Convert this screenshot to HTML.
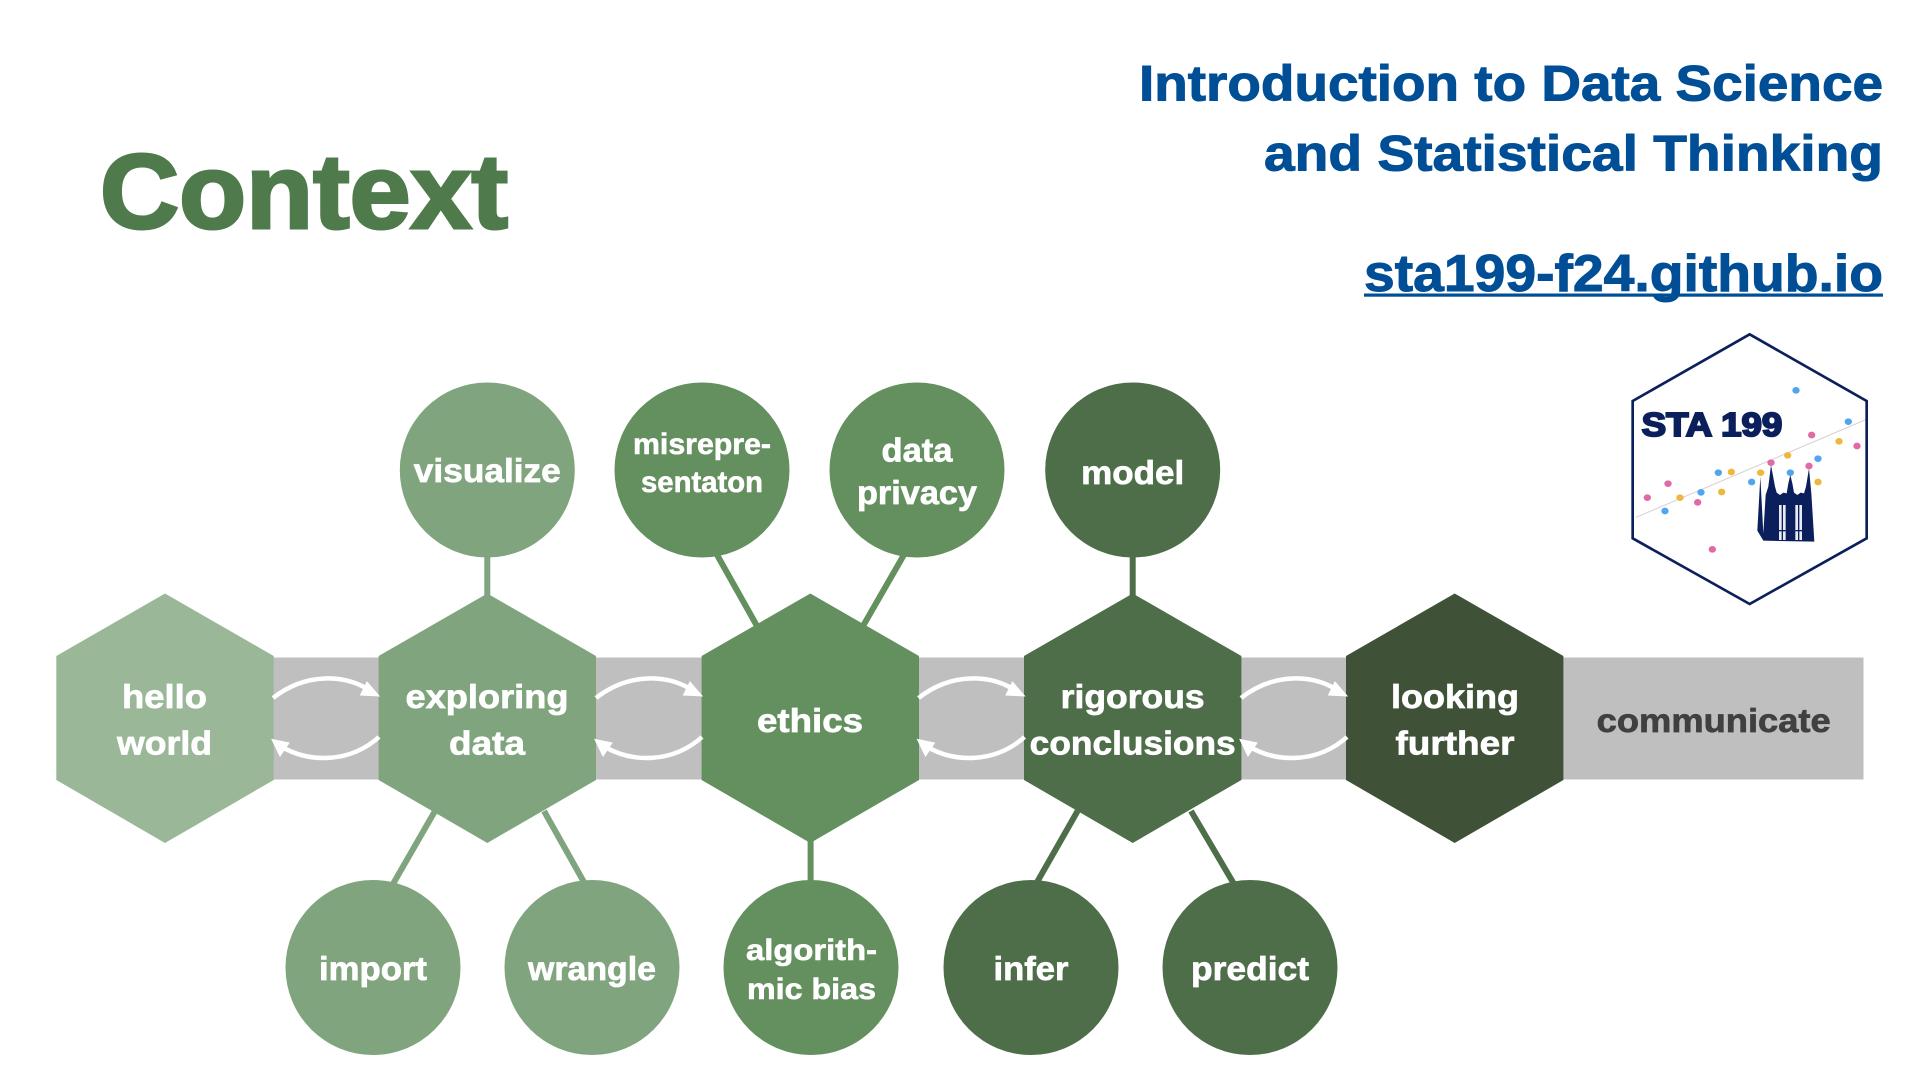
<!DOCTYPE html>
<html><head><meta charset="utf-8"><style>
html,body{margin:0;padding:0;background:#fff;width:1920px;height:1080px;overflow:hidden}
svg{display:block}
text{font-family:"Liberation Sans",sans-serif;font-weight:700}
.l{fill:#fff;stroke:#fff;stroke-width:.7px;text-anchor:middle;font-size:33px}
.s{fill:#fff;stroke:#fff;stroke-width:.6px;text-anchor:middle;font-size:30px}
.b{fill:#004f96;stroke:#004f96;stroke-width:1px;font-size:50px}
</style></head><body>
<svg width="1920" height="1080" viewBox="0 0 1920 1080" xmlns="http://www.w3.org/2000/svg">
<defs>
<g id="arr">
<path d="M273 698C305 673 345 673 372 692" fill="none" stroke="#fff" stroke-width="4.5"/>
<polygon points="379,696 367,682 360.5,695" fill="#fff" stroke="#fff" stroke-width="1"/>
<path d="M379 737C350 763 310 763 282 747" fill="none" stroke="#fff" stroke-width="4.5"/>
<polygon points="272,739.5 280,756 289,743" fill="#fff" stroke="#fff" stroke-width="1"/>
</g>
</defs>
<rect x="270" y="657.5" width="1593.5" height="122" fill="#bfbfbf"/>

<text x="100" y="228" font-size="106" fill="#4f7b4c" stroke="#4f7b4c" stroke-width="3" textLength="408" lengthAdjust="spacingAndGlyphs">Context</text>
<text class="b" x="1139" y="100.7" textLength="744" lengthAdjust="spacingAndGlyphs">Introduction to Data Science</text>
<text class="b" x="1264" y="170.7" textLength="619" lengthAdjust="spacingAndGlyphs">and Statistical Thinking</text>
<text class="b" x="1364" y="291" textLength="519" lengthAdjust="spacingAndGlyphs" style="font-size:52px">sta199-f24.github.io</text>
<rect x="1364" y="293.5" width="519" height="3.2" fill="#004f96"/>

<g stroke-width="6" fill="none">
<g stroke="#80a47d">
<line x1="487.3" y1="550" x2="487.3" y2="600"/>
<line x1="435" y1="811" x2="393" y2="884"/>
<line x1="544" y1="811" x2="585" y2="884"/>
</g>
<g stroke="#64905f">
<line x1="716" y1="553" x2="757" y2="626"/>
<line x1="905" y1="553" x2="863" y2="626"/>
<line x1="810.6" y1="835" x2="810.6" y2="885"/>
</g>
<g stroke="#4e6e4a">
<line x1="1132.7" y1="550" x2="1132.7" y2="600"/>
<line x1="1077.6" y1="811" x2="1036" y2="884"/>
<line x1="1191" y1="811" x2="1234" y2="884"/>
</g>
</g>

<polygon points="165,593.5 273.7,656 273.7,780 165,843 56.3,780 56.3,656" fill="#9ab898"/>
<polygon points="487.3,593.5 596,656 596,780 487.3,843 378.6,780 378.6,656" fill="#80a47d"/>
<polygon points="810.3,593.5 919,656 919,780 810.3,843 701.6,780 701.6,656" fill="#64905f"/>
<polygon points="1132.7,593.5 1241.4,656 1241.4,780 1132.7,843 1024,780 1024,656" fill="#4e6e4a"/>
<polygon points="1454.7,593.5 1563.4,656 1563.4,780 1454.7,843 1346,780 1346,656" fill="#3f5238"/>

<use href="#arr"/>
<use href="#arr" transform="translate(323,0)"/>
<use href="#arr" transform="translate(645.5,0)"/>
<use href="#arr" transform="translate(968,0)"/>

<circle cx="487.3" cy="470" r="87.5" fill="#80a47d"/>
<circle cx="702" cy="470" r="87.5" fill="#64905f"/>
<circle cx="917" cy="470" r="87.5" fill="#64905f"/>
<circle cx="1132.7" cy="470" r="87.5" fill="#4e6e4a"/>
<circle cx="373" cy="967.5" r="87.5" fill="#80a47d"/>
<circle cx="592" cy="967.5" r="87.5" fill="#80a47d"/>
<circle cx="811" cy="967.5" r="87.5" fill="#64905f"/>
<circle cx="1031" cy="967.5" r="87.5" fill="#4e6e4a"/>
<circle cx="1250" cy="967.5" r="87.5" fill="#4e6e4a"/>

<text class="l" x="164.5" y="708" textLength="85" lengthAdjust="spacingAndGlyphs">hello</text>
<text class="l" x="164.5" y="754.3" textLength="95" lengthAdjust="spacingAndGlyphs">world</text>
<text class="l" x="487" y="708" textLength="163" lengthAdjust="spacingAndGlyphs">exploring</text>
<text class="l" x="487" y="754.3" textLength="76" lengthAdjust="spacingAndGlyphs">data</text>
<text class="l" x="810" y="732" textLength="106" lengthAdjust="spacingAndGlyphs">ethics</text>
<text class="l" x="1132.7" y="708" textLength="144" lengthAdjust="spacingAndGlyphs">rigorous</text>
<text class="l" x="1132.7" y="754.3" textLength="206" lengthAdjust="spacingAndGlyphs">conclusions</text>
<text class="l" x="1455" y="708" textLength="128" lengthAdjust="spacingAndGlyphs">looking</text>
<text class="l" x="1455" y="754.3" textLength="119" lengthAdjust="spacingAndGlyphs">further</text>
<text class="l" x="1713.7" y="732" textLength="234" lengthAdjust="spacingAndGlyphs" style="fill:#404040;stroke:#404040">communicate</text>

<text class="l" x="487.3" y="482" textLength="147" lengthAdjust="spacingAndGlyphs">visualize</text>
<text class="s" x="702" y="454" textLength="138" lengthAdjust="spacingAndGlyphs">misrepre-</text>
<text class="s" x="702" y="492" textLength="122" lengthAdjust="spacingAndGlyphs">sentaton</text>
<text class="l" x="917" y="461.6" textLength="71" lengthAdjust="spacingAndGlyphs">data</text>
<text class="l" x="917" y="504" textLength="120" lengthAdjust="spacingAndGlyphs">privacy</text>
<text class="l" x="1132.7" y="484" textLength="103" lengthAdjust="spacingAndGlyphs">model</text>
<text class="l" x="373" y="980" textLength="108" lengthAdjust="spacingAndGlyphs">import</text>
<text class="l" x="592" y="980" textLength="128" lengthAdjust="spacingAndGlyphs">wrangle</text>
<text class="s" x="811.5" y="960" textLength="131" lengthAdjust="spacingAndGlyphs">algorith-</text>
<text class="s" x="811.5" y="999" textLength="129" lengthAdjust="spacingAndGlyphs">mic bias</text>
<text class="l" x="1031" y="980" textLength="75" lengthAdjust="spacingAndGlyphs">infer</text>
<text class="l" x="1250" y="980" textLength="118" lengthAdjust="spacingAndGlyphs">predict</text>

<g transform="translate(1600,320) scale(0.33333)">
<polygon points="449,43 800,243 800,655 449,852 98,655 98,243" fill="#fff" stroke="#0b1f5c" stroke-width="8" stroke-linejoin="miter"/>
<line x1="108" y1="592" x2="795" y2="300" stroke="#d9cfd6" stroke-width="3"/>
<path d="M472 632L481 470L490 640L497 525L505 500L513 435L525 500L530 518L540 525L550 518L560 520L565 490L571 465L577 490L582 518L592 525L602 518L612 520L618 500L627 445L634 520L643 665L490 662Z" fill="#0b1f5c"/>
<rect x="537" y="555" width="20" height="105" fill="#e8ebf3"/><rect x="545" y="555" width="4" height="105" fill="#0b1f5c"/><rect x="537" y="630" width="20" height="4" fill="#0b1f5c"/>
<rect x="586" y="555" width="20" height="105" fill="#e8ebf3"/><rect x="594" y="555" width="4" height="105" fill="#0b1f5c"/><rect x="586" y="630" width="20" height="4" fill="#0b1f5c"/>
<text x="125" y="348" font-size="100" fill="#0b1f5c" stroke="#0b1f5c" stroke-width="6" textLength="422" lengthAdjust="spacingAndGlyphs">STA 199</text>
<g fill="#4fa6ec">
<ellipse cx="588" cy="211" rx="11" ry="10"/><ellipse cx="745" cy="305" rx="11" ry="10"/><ellipse cx="654" cy="416" rx="11" ry="10"/><ellipse cx="571" cy="458" rx="11" ry="10"/><ellipse cx="455" cy="486" rx="11" ry="10"/><ellipse cx="355" cy="458" rx="11" ry="10"/><ellipse cx="303" cy="517" rx="11" ry="10"/><ellipse cx="195" cy="573" rx="11" ry="10"/>
</g>
<g fill="#e06aa6">
<ellipse cx="635" cy="345" rx="11" ry="10"/><ellipse cx="771" cy="378" rx="11" ry="10"/><ellipse cx="513" cy="428" rx="11" ry="10"/><ellipse cx="627" cy="438" rx="11" ry="10"/><ellipse cx="204" cy="491" rx="11" ry="10"/><ellipse cx="142" cy="533" rx="11" ry="10"/><ellipse cx="293" cy="547" rx="11" ry="10"/><ellipse cx="337" cy="688" rx="11" ry="10"/>
</g>
<g fill="#ecb93c">
<ellipse cx="717" cy="364" rx="11" ry="10"/><ellipse cx="563" cy="406" rx="11" ry="10"/><ellipse cx="482" cy="458" rx="11" ry="10"/><ellipse cx="394" cy="456" rx="11" ry="10"/><ellipse cx="654" cy="486" rx="11" ry="10"/><ellipse cx="365" cy="516" rx="11" ry="10"/><ellipse cx="240" cy="533" rx="11" ry="10"/>
</g>
</g>
</svg>
</body></html>
